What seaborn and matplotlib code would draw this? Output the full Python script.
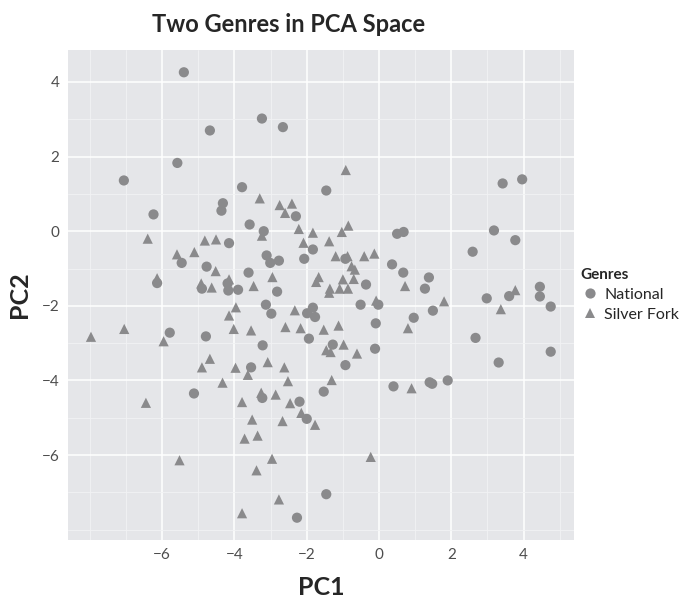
import matplotlib
matplotlib.use("Agg")
import matplotlib.pyplot as plt
import numpy as np
import pandas as pd
import seaborn as sns

# PCA scores
national_pc1 = [-5.40, -3.24, -2.66, -4.68, -5.58, -7.06, -3.79, -4.32, -4.36, -2.30,
                -6.24, -1.46, 3.42, 3.96, -3.58, -3.19, -4.15, -1.83, -5.46, -3.11,
                -3.01, -2.77, -2.07, -4.77, -3.61, -6.14, -4.90, -4.19, -4.17, -3.90,
                -2.82, -3.13, -2.98, -1.99, -1.83, -1.77, -5.79, -4.79, -3.22, -1.94,
                -3.54, -5.12, -3.23, -2.20, -2.00, -2.27, -1.46, -0.93, 0.50, 0.68,
                0.36, 0.67, 1.38, 1.27, -0.36, -0.51, -0.02, -1.28, -0.09, -0.11,
                -0.93, 0.96, 1.49, 2.59, 3.18, 3.77, 2.98, 3.60, 4.45, 4.45,
                4.75, 2.67, 4.75, 3.31, -1.53, 0.40, 1.40, 1.47, 1.90]
national_pc2 = [4.26, 3.02, 2.79, 2.70, 1.83, 1.36, 1.18, 0.75, 0.55, 0.40,
                0.45, 1.09, 1.28, 1.39, 0.18, 0.00, -0.32, -0.49, -0.85, -0.65,
                -0.85, -0.79, -0.74, -0.95, -1.11, -1.39, -1.54, -1.40, -1.59, -1.57,
                -1.62, -1.97, -2.21, -2.20, -2.05, -2.30, -2.72, -2.82, -3.06, -2.88,
                -3.65, -4.35, -4.47, -4.57, -5.03, -7.68, -7.05, -0.74, -0.07, -0.02,
                -0.89, -1.11, -1.24, -1.54, -1.43, -1.97, -1.97, -3.04, -2.47, -3.15,
                -3.59, -2.32, -2.13, -0.55, 0.02, -0.24, -1.80, -1.74, -1.49, -1.75,
                -2.02, -2.86, -3.23, -3.52, -4.30, -4.16, -4.05, -4.09, -4.00]

silver_pc1 = [-3.30, -2.75, -2.41, -2.60, -0.92, -6.40, -3.24, -2.22, -1.83, -4.82,
              -4.51, -2.09, -5.59, -5.11, -4.52, -2.95, -6.14, -4.92, -4.63, -4.15,
              -3.47, -1.67, -1.74, -3.96, -4.15, -2.33, -7.97, -7.05, -5.96, -4.02,
              -3.54, -2.59, -2.17, -4.68, -4.90, -3.97, -3.08, -2.62, -3.63, -4.33,
              -2.52, -3.26, -2.86, -6.45, -3.79, -2.46, -2.15, -1.77, -3.51, -2.67,
              -3.72, -3.36, -5.52, -2.96, -3.39, -2.77, -3.79, -0.85, -1.03, -1.38,
              -1.20, -0.87, -0.41, -0.13, -0.76, -0.67, 0.72, -1.00, -0.70, -1.36,
              -1.38, -1.09, -0.86, -0.08, -1.53, -1.12, -0.98, -1.46, -1.34, -0.61,
              0.80, 1.80, 3.77, 3.37, -1.31, 0.90, -0.23]
silver_pc2 = [0.88, 0.70, 0.74, 0.49, 1.64, -0.20, -0.12, 0.06, -0.04, -0.25,
              -0.22, -0.31, -0.62, -0.56, -1.07, -1.23, -1.26, -1.40, -1.51, -1.29,
              -1.47, -1.23, -1.36, -2.04, -2.26, -2.12, -2.83, -2.62, -2.95, -2.62,
              -2.66, -2.57, -2.60, -3.42, -3.65, -3.66, -3.51, -3.65, -3.85, -4.06,
              -4.02, -4.33, -4.38, -4.60, -4.58, -4.61, -4.87, -5.19, -5.05, -5.09,
              -5.56, -5.48, -6.14, -6.10, -6.41, -7.19, -7.56, 0.15, -0.02, -0.27,
              -0.67, -0.67, -0.67, -0.60, -0.94, -1.03, -1.47, -1.29, -1.28, -1.54,
              -1.65, -1.54, -1.54, -1.86, -2.64, -2.53, -3.04, -3.19, -3.24, -3.28,
              -2.60, -1.88, -1.58, -2.09, -3.99, -4.21, -6.05]

genres = ["National", "Silver Fork"]

df = pd.DataFrame({
    "PC1": national_pc1 + silver_pc1,
    "PC2": national_pc2 + silver_pc2,
    "Genres": [genres[0]] * len(national_pc1) + [genres[1]] * len(silver_pc1),
})

sns.set_style("white")
plt.rcParams["font.family"] = ["Lato", "DejaVu Sans"]

fig = plt.figure(figsize=(6.86, 6.04), dpi=100)
ax = fig.add_axes([0.0991, 0.106, 0.7372, 0.8112])
ax.set_facecolor("#e5e6e9")

sns.scatterplot(data=df, x="PC1", y="PC2", style="Genres",
                markers={"National": "o", "Silver Fork": "^"},
                color="#8a8a8c", s=54, linewidth=0, ax=ax)

# ggplot-like limits and grid
pad_x = 0.05 * (max(df.PC1) - min(df.PC1))
pad_y = 0.05 * (max(df.PC2) - min(df.PC2))
ax.set_xlim(min(df.PC1) - pad_x, max(df.PC1) + pad_x)
ax.set_ylim(min(df.PC2) - pad_y, max(df.PC2) + pad_y)
ax.set_xticks([-6, -4, -2, 0, 2, 4])
ax.set_yticks([-6, -4, -2, 0, 2, 4])
ax.set_xticks([-8, -7, -5, -3, -1, 1, 3, 5], minor=True)
ax.set_yticks([-8, -7, -5, -3, -1, 1, 3], minor=True)
ax.grid(which="major", color="white", linewidth=1.1)
ax.grid(which="minor", color="#f2f2f4", linewidth=0.6)
ax.set_axisbelow(True)
for sp in ax.spines.values():
    sp.set_visible(False)
ax.tick_params(which="major", length=3, width=0.6, color="#444444",
               labelsize=11, labelcolor="#4d4d4d", pad=3)
ax.tick_params(which="minor", length=0)
ax.set_xticklabels(["\u22126", "\u22124", "\u22122", "0", "2", "4"])
ax.set_yticklabels(["\u22126", "\u22124", "\u22122", "0", "2", "4"])

ax.set_xlabel("PC1", fontsize=18, fontweight="bold", labelpad=10)
ax.set_ylabel("PC2", fontsize=18, fontweight="bold", labelpad=8)
fig.text(0.42, 0.960, "Two Genres in PCA Space", ha="center", va="center",
         fontsize=17, fontweight="bold")

sns.move_legend(ax, loc="center left", bbox_to_anchor=(1.0, 0.5), frameon=False,
                title="Genres", fontsize=11.5, title_fontproperties={"weight": "bold", "size": 11},
                handletextpad=0.3, borderaxespad=0.2, borderpad=0.2, labelspacing=0.35,
                alignment="left", handlelength=1.2)

fig.savefig("out.png", dpi=100)
